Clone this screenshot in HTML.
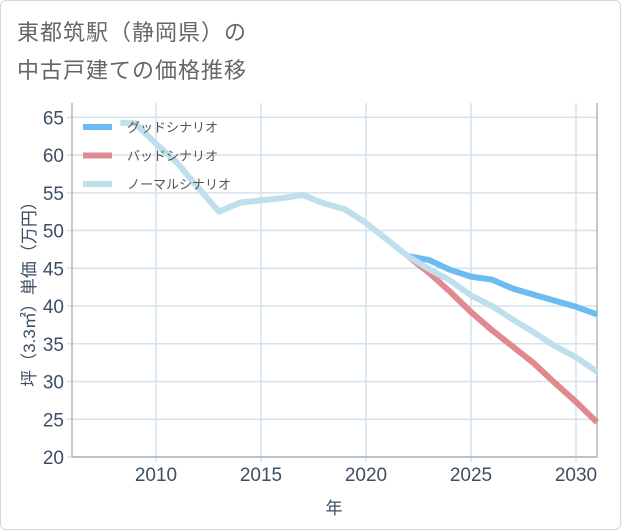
<!DOCTYPE html>
<html><head><meta charset="utf-8"><style>
html,body{margin:0;padding:0;background:#fff}
body{width:621px;height:530px;overflow:hidden;font-family:"Liberation Sans","Noto Sans CJK JP",sans-serif}
.frame{position:absolute;left:0;top:0;width:619px;height:528px;border:1px solid #d6d6d6;border-radius:6px}
.title{position:absolute;left:17px;top:14px;font-size:22px;line-height:38px;color:#666;letter-spacing:1px}
</style></head><body>
<div class="frame"></div>
<div class="title">東都筑駅（静岡県）の<br>中古戸建ての価格推移</div>
<svg id="chart" width="621" height="530" style="position:absolute;left:0;top:0"></svg>
<script>
const years=[2008.3,2009,2010,2011,2012,2013,2014,2015,2016,2017,2018,2019,2020,2021,2022,2023,2024,2025,2026,2027,2028,2029,2030,2031];
const normalVals=[64.3,64.2,61.5,59,55.7,52.5,53.7,54,54.3,54.7,53.6,52.8,51,48.8,46.6,44.9,43.4,41.4,40,38.2,36.5,34.7,33.2,31.3];
const futureYears=[2022,2023,2024,2025,2026,2027,2028,2029,2030,2031];
const goodVals=[46.6,46.1,44.8,43.9,43.5,42.3,41.5,40.7,39.9,38.9];
const badVals=[46.6,44.4,41.9,39.2,36.8,34.6,32.4,29.8,27.3,24.6];
const xTicks=[2010,2015,2020,2025,2030];
const yTicks=[20,25,30,35,40,45,50,55,60,65];
const legendLabels=["グッドシナリオ","バッドシナリオ","ノーマルシナリオ"];
const L=72,R=597,T=103,B=457,x0=2006,x1=2031,y0=20,y1=66.9;
const sx=v=>L+(v-x0)/(x1-x0)*(R-L);
const sy=v=>B-(v-y0)/(y1-y0)*(B-T);
const svg=document.getElementById('chart');
const NS='http://www.w3.org/2000/svg';
function mk(t,a){const e=document.createElementNS(NS,t);for(const k in a)e.setAttribute(k,a[k]);svg.appendChild(e);return e;}
yTicks.forEach(v=>{
 const g=mk('line',{x1:L-5,x2:R,y1:sy(v),y2:sy(v),stroke:'#d3e2ec','stroke-width':1.5});
 
 
 const t=mk('text',{x:L-8,y:sy(v)+7,'text-anchor':'end','font-size':19,fill:'#3d4f63'});
 t.textContent=v;
 
 
});
xTicks.forEach(v=>{
 const g=mk('line',{x1:sx(v),x2:sx(v),y1:T,y2:B+5,stroke:'#d3e2ec','stroke-width':1.5});
 
 
 const t=mk('text',{x:sx(v),y:B+24,'text-anchor':'middle','font-size':19,fill:'#3d4f63'});
 t.textContent=v;
 
 
});
const ax=mk('path',{d:`M${L},${T} V${B} H${R} V${T}`,fill:'none',stroke:'#9aa8b4','stroke-width':1.2});


function line(xs,ys,c,name){
 const p=mk('polyline',{points:xs.map((x,i)=>sx(x)+','+sy(ys[i])).join(' '),fill:'none',stroke:c,'stroke-width':6,'stroke-linejoin':'round'});
 
 
}
line(futureYears,goodVals,'#6bbcf0','good-scenario-line');
line(futureYears,badVals,'#e0898f','bad-scenario-line');
line(years,normalVals,'#bfdfec','normal-scenario-line');
const cols=['#6bbcf0','#e0898f','#bfdfec'];
legendLabels.forEach((s,i)=>{
 const y=127+i*28.5;
 const l=mk('line',{x1:83,x2:112,y1:y,y2:y,stroke:cols[i],'stroke-width':6});
 
 
 const t=mk('text',{x:127,y:y+5,'font-size':13,fill:'#555'});
 t.textContent=s;
 
 
});
const yt=mk('text',{x:0,y:0,transform:'translate(35,290) rotate(-90)','text-anchor':'middle','font-size':17,fill:'#3d4f63'});
yt.textContent='坪（3.3㎡）単価（万円）';


const xt=mk('text',{x:334,y:514,'text-anchor':'middle','font-size':17,fill:'#3d4f63'});
xt.textContent='年';


</script>
</body></html>
